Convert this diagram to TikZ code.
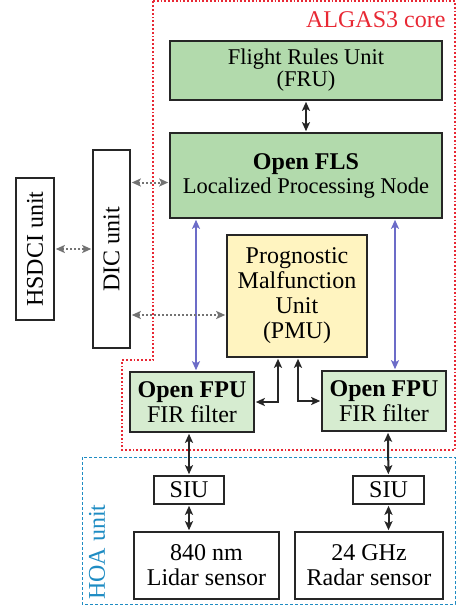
\documentclass[tikz,border=0pt]{standalone}
\usepackage{fontspec}
\setmainfont{Liberation Serif}
\usetikzlibrary{positioning,arrows.meta}

\definecolor{coreGreen}{RGB}{178,218,172}
\definecolor{fpuGreen}{RGB}{214,236,208}
\definecolor{pmuYellow}{RGB}{255,244,192}
\definecolor{coreRed}{RGB}{232,40,52}
\definecolor{hoaBlue}{RGB}{30,140,195}
\definecolor{linkBlue}{RGB}{108,108,200}

\tikzset{
  unitbox/.style={draw=black!85,line width=1.6pt,align=center,inner sep=0pt,
    font=\fontsize{24}{25}\selectfont},
  wideunit/.style={unitbox,fill=coreGreen,font=\fontsize{22.5}{24}\selectfont},
  twoway/.style={{Stealth[length=9pt,width=8pt,inset=2pt]}-{Stealth[length=9pt,width=8pt,inset=2pt]},
    line width=2pt,black!85,shorten <=1pt,shorten >=1pt},
  bluelink/.style={twoway,linkBlue,line width=1.6pt},
  datalink/.style={twoway,black!55,dotted,line width=2pt}
}

\begin{document}
\begin{tikzpicture}[x=1pt,y=-1pt]
\useasboundingbox (0,0) rectangle (458,610);

% regions
\draw[coreRed,dotted,line width=1.8pt] (153,1) -- (455,1) -- (455,450) -- (122,450) -- (122,360) -- (153,360) -- cycle;
\node[text=coreRed,anchor=east,font=\fontsize{24}{25}\selectfont] (coretitle) at (449,20) {ALGAS3 core};
\draw[hoaBlue,densely dashed,line width=1pt] (82,457) rectangle (455,604);
\node[text=hoaBlue,rotate=90,font=\fontsize{24}{25}\selectfont] (hoatitle) at (97,552) {HOA unit};

% core units
\node[wideunit,font=\fontsize{22.5}{22}\selectfont,minimum width=272,minimum height=59] (fru) at (306,70.5) {Flight Rules Unit\\(FRU)};
\node[wideunit,minimum width=272,minimum height=85] (fls) at (306,175.5) {\textbf{\fontsize{24}{25}\selectfont Open FLS}\\Localized Processing Node};
\node[unitbox,fill=pmuYellow,minimum width=140,minimum height=122] (pmu) at (297,296) {Prognostic\\Malfunction\\Unit\\(PMU)};
\node[unitbox,fill=fpuGreen,minimum width=124,minimum height=60] (fpuL) at (192,402) {\textbf{Open FPU}\\FIR filter};
\node[unitbox,fill=fpuGreen,minimum width=124,minimum height=60] (fpuR) at (384,401) {\textbf{Open FPU}\\FIR filter};

% interface units
\node[unitbox,fill=white,rotate=90,minimum width=198,minimum height=37] (dic) at (111.5,249) {DIC unit};
\node[unitbox,fill=white,rotate=90,minimum width=142,minimum height=38] (hsdci) at (35,249) {HSDCI unit};

% HOA units
\node[unitbox,minimum width=70,minimum height=28] (siuL) at (189,490) {SIU};
\node[unitbox,minimum width=71,minimum height=28] (siuR) at (388.5,490) {SIU};
\node[unitbox,minimum width=145,minimum height=67] (lidar) at (206.5,565.5) {840 nm\\Lidar sensor};
\node[unitbox,minimum width=148,minimum height=67] (radar) at (369,565.5) {24 GHz\\Radar sensor};

% links
\draw[twoway] (fru) -- (fls);
\draw[bluelink] ([xshift=4pt]fpuL.north |- fls.south) -- ([xshift=4pt]fpuL.north);
\draw[bluelink] ([xshift=11pt]fpuR.north |- fls.south) -- ([xshift=11pt]fpuR.north);
\draw[twoway] ([xshift=-19pt]pmu.south) |- (fpuL.east);
\draw[twoway] ([xshift=1pt]pmu.south) |- (fpuR.west);
\draw[datalink] (hsdci.south) -- (dic.north);
\draw[datalink] ([yshift=-7pt]dic.south |- fls.west) -- ([yshift=-7pt]fls.west);
\draw[datalink] ([yshift=-19pt]dic.south |- pmu.west) -- ([yshift=-19pt]pmu.west);
\draw[twoway] ([xshift=-3pt]fpuL.south) -- (siuL);
\draw[twoway] ([xshift=4pt]fpuR.south) -- (siuR);
\draw[twoway] (siuL) -- (siuL |- lidar.north);
\draw[twoway] (siuR) -- (siuR |- radar.north);

\end{tikzpicture}
\end{document}
